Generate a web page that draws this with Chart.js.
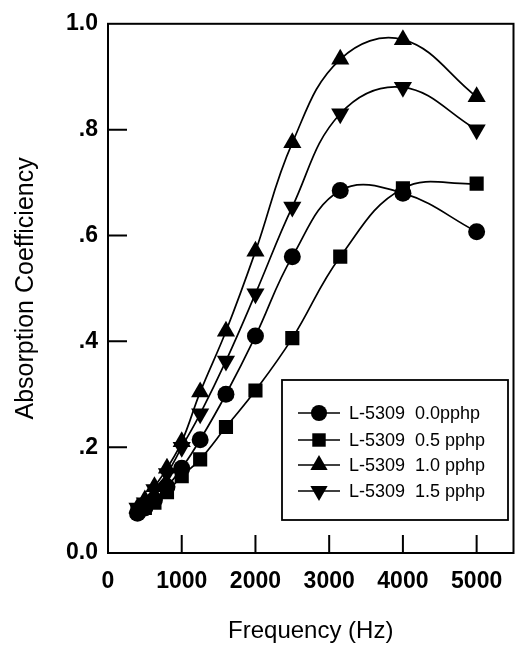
<!DOCTYPE html>
<html><head><meta charset="utf-8">
<script src="https://cdn.jsdelivr.net/npm/chart.js@4.4.0/dist/chart.umd.min.js"></script>
<style>html,body{margin:0;padding:0;background:#fff}#wrap{width:524px;height:652px;position:relative}canvas{display:block}</style>
</head><body><div id="wrap"><canvas id="c" width="524" height="652"></canvas></div>
<script>
const frequencies = [400, 500, 630, 800, 1000, 1250, 1600, 2000, 2500, 3150, 4000, 5000];
const seriesLabels = ['L-5309  0.0pphp', 'L-5309  0.5 pphp', 'L-5309  1.0 pphp', 'L-5309  1.5 pphp'];
const pphp00 = [0.075, 0.085, 0.10, 0.125, 0.16, 0.214, 0.30, 0.41, 0.56, 0.685, 0.68, 0.607];
const pphp05 = [0.08, 0.085, 0.095, 0.115, 0.145, 0.177, 0.238, 0.307, 0.406, 0.56, 0.689, 0.698];
const pphp10 = [0.085, 0.10, 0.125, 0.16, 0.21, 0.304, 0.419, 0.57, 0.775, 0.933, 0.97, 0.862];
const pphp15 = [0.085, 0.095, 0.12, 0.15, 0.20, 0.263, 0.363, 0.49, 0.654, 0.83, 0.88, 0.80];
const xTicks = [0, 1000, 2000, 3000, 4000, 5000];
const yTicks = [0, 0.2, 0.4, 0.6, 0.8, 1.0];
const yTickLabels = ['0.0', '.2', '.4', '.6', '.8', '1.0'];
const xTitle = 'Frequency (Hz)';
const yTitle = 'Absorption Coefficiency';

const FONT = "'Liberation Sans', Arial, sans-serif";
const styles = [
  {pointStyle: 'circle', r: 8.5, rot: 0},
  {pointStyle: 'rect', r: 10, rot: 0},
  {pointStyle: 'triangle', r: 10.5, rot: 0},
  {pointStyle: 'triangle', r: 10.5, rot: 180}
];
const seriesValues = [pphp00, pphp05, pphp10, pphp15];

const datasets = seriesValues.map((vals, i) => ({
  label: seriesLabels[i],
  data: frequencies.map((f, j) => ({x: f, y: vals[j]})),
  showLine: true,
  borderColor: '#000',
  backgroundColor: '#000',
  borderWidth: 1.7,
  tension: 0.4,
  pointStyle: styles[i].pointStyle,
  pointRadius: styles[i].r,
  pointRotation: styles[i].rot,
  pointBorderWidth: 0,
  pointBackgroundColor: '#000'
}));

function marker(ctx, style, x, y, r, rot) {
  ctx.save();
  ctx.fillStyle = '#000';
  ctx.beginPath();
  if (style === 'circle') {
    ctx.arc(x, y, r, 0, Math.PI * 2);
  } else if (style === 'rect') {
    const s = r * Math.SQRT1_2;
    ctx.rect(x - s, y - s, 2 * s, 2 * s);
  } else {
    let a = rot * Math.PI / 180;
    ctx.moveTo(x + Math.sin(a) * r, y - Math.cos(a) * r);
    a += 2 * Math.PI / 3;
    ctx.lineTo(x + Math.sin(a) * r, y - Math.cos(a) * r);
    a += 2 * Math.PI / 3;
    ctx.lineTo(x + Math.sin(a) * r, y - Math.cos(a) * r);
    ctx.closePath();
  }
  ctx.fill();
  ctx.restore();
}

const framePlugin = {
  id: 'frame',
  afterDraw(chart) {
    const ctx = chart.ctx;
    const a = chart.chartArea;
    const xs = chart.scales.x, ys = chart.scales.y;
    ctx.save();
    ctx.strokeStyle = '#000';
    ctx.lineWidth = 2;
    ctx.strokeRect(a.left, a.top, a.right - a.left, a.bottom - a.top);
    ctx.beginPath();
    xTicks.forEach(v => {
      if (v === 0) return;
      const px = xs.getPixelForValue(v);
      ctx.moveTo(px, a.bottom);
      ctx.lineTo(px, a.bottom - 18);
    });
    yTicks.forEach(v => {
      if (v === 0 || v === 1) return;
      const py = ys.getPixelForValue(v);
      ctx.moveTo(a.left, py);
      ctx.lineTo(a.left + 19, py);
    });
    ctx.stroke();

    // legend
    const bx = 282, by = 380, bw = 226, bh = 140;
    ctx.fillStyle = '#fff';
    ctx.fillRect(bx, by, bw, bh);
    ctx.lineWidth = 1.8;
    ctx.strokeRect(bx, by, bw, bh);
    const rowY = [413, 440, 465, 491];
    ctx.font = '18px ' + FONT;
    ctx.textBaseline = 'middle';
    ctx.textAlign = 'left';
    chart.data.datasets.forEach((ds, i) => {
      const y = rowY[i];
      ctx.beginPath();
      ctx.lineWidth = 1.7;
      ctx.moveTo(298, y);
      ctx.lineTo(340, y);
      ctx.stroke();
      const st = styles[i];
      marker(ctx, st.pointStyle, 319, y, st.r * 0.95, st.rot);
      ctx.fillStyle = '#000';
      ctx.fillText(ds.label, 349, y + 1);
    });
    ctx.restore();
  }
};

new Chart(document.getElementById('c'), {
  type: 'scatter',
  data: {datasets},
  options: {
    responsive: false,
    animation: false,
    devicePixelRatio: 1,
    layout: {padding: {top: 16, right: 4, left: 0, bottom: 0}},
    plugins: {legend: {display: false}, tooltip: {enabled: false}},
    scales: {
      x: {
        type: 'linear', min: 0, max: 5500,
        afterBuildTicks: s => { s.ticks = xTicks.map(v => ({value: v})); },
        afterFit: s => { s.height = 99; },
        grid: {display: false, drawTicks: false},
        border: {display: false},
        ticks: {color: '#000', font: {family: FONT, size: 23, weight: 'bold'}, padding: 15, maxRotation: 0, autoSkip: false,
          callback: v => String(v)},
        title: {display: true, text: xTitle, color: '#000', font: {family: FONT, size: 24}, padding: {top: 0, bottom: 6}}
      },
      y: {
        type: 'linear', min: 0, max: 1,
        afterBuildTicks: s => { s.ticks = yTicks.map(v => ({value: v})); },
        afterFit: s => { s.width = 108; },
        grid: {display: false, drawTicks: false},
        border: {display: false},
        ticks: {color: '#000', font: {family: FONT, size: 23, weight: 'bold'}, padding: 10, autoSkip: false,
          callback: (v, i) => yTickLabels[i]},
        title: {display: true, text: yTitle, color: '#000', font: {family: FONT, size: 25}, padding: {top: 11, bottom: 0}}
      }
    }
  },
  plugins: [framePlugin]
});
</script>
</body></html>
